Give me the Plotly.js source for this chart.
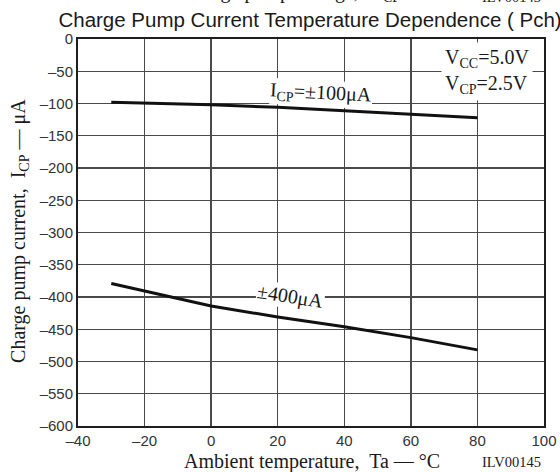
<!DOCTYPE html>
<html><head><meta charset="utf-8">
<script src="https://cdn.plot.ly/plotly-3.0.1.min.js"></script>
<style>body{margin:0;background:#fff}#c{width:560px;height:472px}</style>
</head><body><div id="c"></div>
<script>
const temps = [-30, -20, 0, 20, 40, 60, 80];
const icp100 = [-98, -99, -102, -106, -111, -116, -122];
const icp400 = [-379, -391, -414, -431, -446, -463, -482];
const xTicks = [-40, -20, 0, 20, 40, 60, 80, 100];
const yTicks = [0, -50, -100, -150, -200, -250, -300, -350, -400, -450, -500, -550, -600];

const serif = 'Liberation Serif, Times New Roman, serif';
const sans = 'Liberation Sans, Arial, sans-serif';
const ink = '#1a1a1a';
const gridCol = '#4a4a4a';

const axisCommon = {
  tickmode: 'array', showgrid: true, gridcolor: gridCol, gridwidth: 1.4, zeroline: false,
  showline: true, linecolor: 'rgb(30,30,30)', linewidth: 2, mirror: true, ticks: '',
  tickfont: {family: sans, size: 15, color: '#333'}, layer: 'below traces'
};

const traces = [
  {x: temps, y: icp100, mode: 'lines', line: {color: '#111', width: 3}, hoverinfo: 'none'},
  {x: temps, y: icp400, mode: 'lines', line: {color: '#111', width: 3}, hoverinfo: 'none'}
];

const layout = {
  width: 560, height: 472,
  margin: {l: 78, r: 16, t: 39, b: 46},
  paper_bgcolor: '#ffffff', plot_bgcolor: '#ffffff',
  showlegend: false,
  title: {text: 'Charge Pump Current Temperature Dependence ( Pch)', font: {family: sans, size: 20.5, color: ink},
    x: 0.498, xref: 'paper', xanchor: 'center', y: 0.957, yanchor: 'middle'},
  xaxis: Object.assign({}, axisCommon, {range: [-40, 100], tickvals: xTicks,
    ticktext: xTicks.map(v => v < 0 ? '\u2013' + (-v) : String(v))}),
  yaxis: Object.assign({}, axisCommon, {range: [-600, 0], tickvals: yTicks,
    ticktext: yTicks.map(v => v < 0 ? '\u2013' + (-v) : String(v))}),
  annotations: [
    {xref: 'x', yref: 'y', x: 33, y: -84, text: 'I<sub>CP</sub>=\u00b1100\u03bcA', showarrow: false,
      font: {family: serif, size: 20, color: ink}, bgcolor: '#fff', textangle: 3, borderpad: 0},
    {xref: 'x', yref: 'y', x: 23.7, y: -399, text: '\u00b1400\u03bcA', showarrow: false,
      font: {family: serif, size: 20, color: ink}, bgcolor: '#fff', textangle: 9, borderpad: 0},
    {xref: 'x', yref: 'y', x: 69, y: -50, xanchor: 'left', text: 'V<sub>CC</sub>=5.0V<br>V<sub>CP</sub>=2.5V', showarrow: false, align: 'left',
      font: {family: serif, size: 20, color: ink}, bgcolor: '#fff', borderpad: 3},
    {xref: 'paper', yref: 'paper', x: -0.1245, y: 0.504, xanchor: 'center', yanchor: 'middle', textangle: -90,
      text: 'Charge pump current,  I<sub>CP</sub> \u2014 \u03bcA', showarrow: false,
      font: {family: serif, size: 20, color: ink}},
    {xref: 'paper', yref: 'paper', x: 0.502, y: -0.093, xanchor: 'center', yanchor: 'middle',
      text: 'Ambient temperature,  Ta \u2014 \u00b0C', showarrow: false,
      font: {family: serif, size: 20, color: ink}},
    {xref: 'paper', yref: 'paper', x: 0.998, y: -0.093, xanchor: 'right', yanchor: 'middle', text: 'ILV00145', showarrow: false,
      font: {family: serif, size: 14.5, color: ink}},
    {xref: 'paper', yref: 'paper', x: 0.219, y: 1.082, xanchor: 'left', yanchor: 'bottom',
      text: 'Charge pump voltage,  V<sub>CP</sub> \u2014 V', showarrow: false,
      font: {family: serif, size: 20, color: ink}},
    {xref: 'paper', yref: 'paper', x: 0.998, y: 1.082, xanchor: 'right', yanchor: 'bottom', text: 'ILV00143', showarrow: false,
      font: {family: serif, size: 14.5, color: ink}}
  ]
};

Plotly.newPlot('c', traces, layout, {staticPlot: true, displayModeBar: false});
</script></body></html>
